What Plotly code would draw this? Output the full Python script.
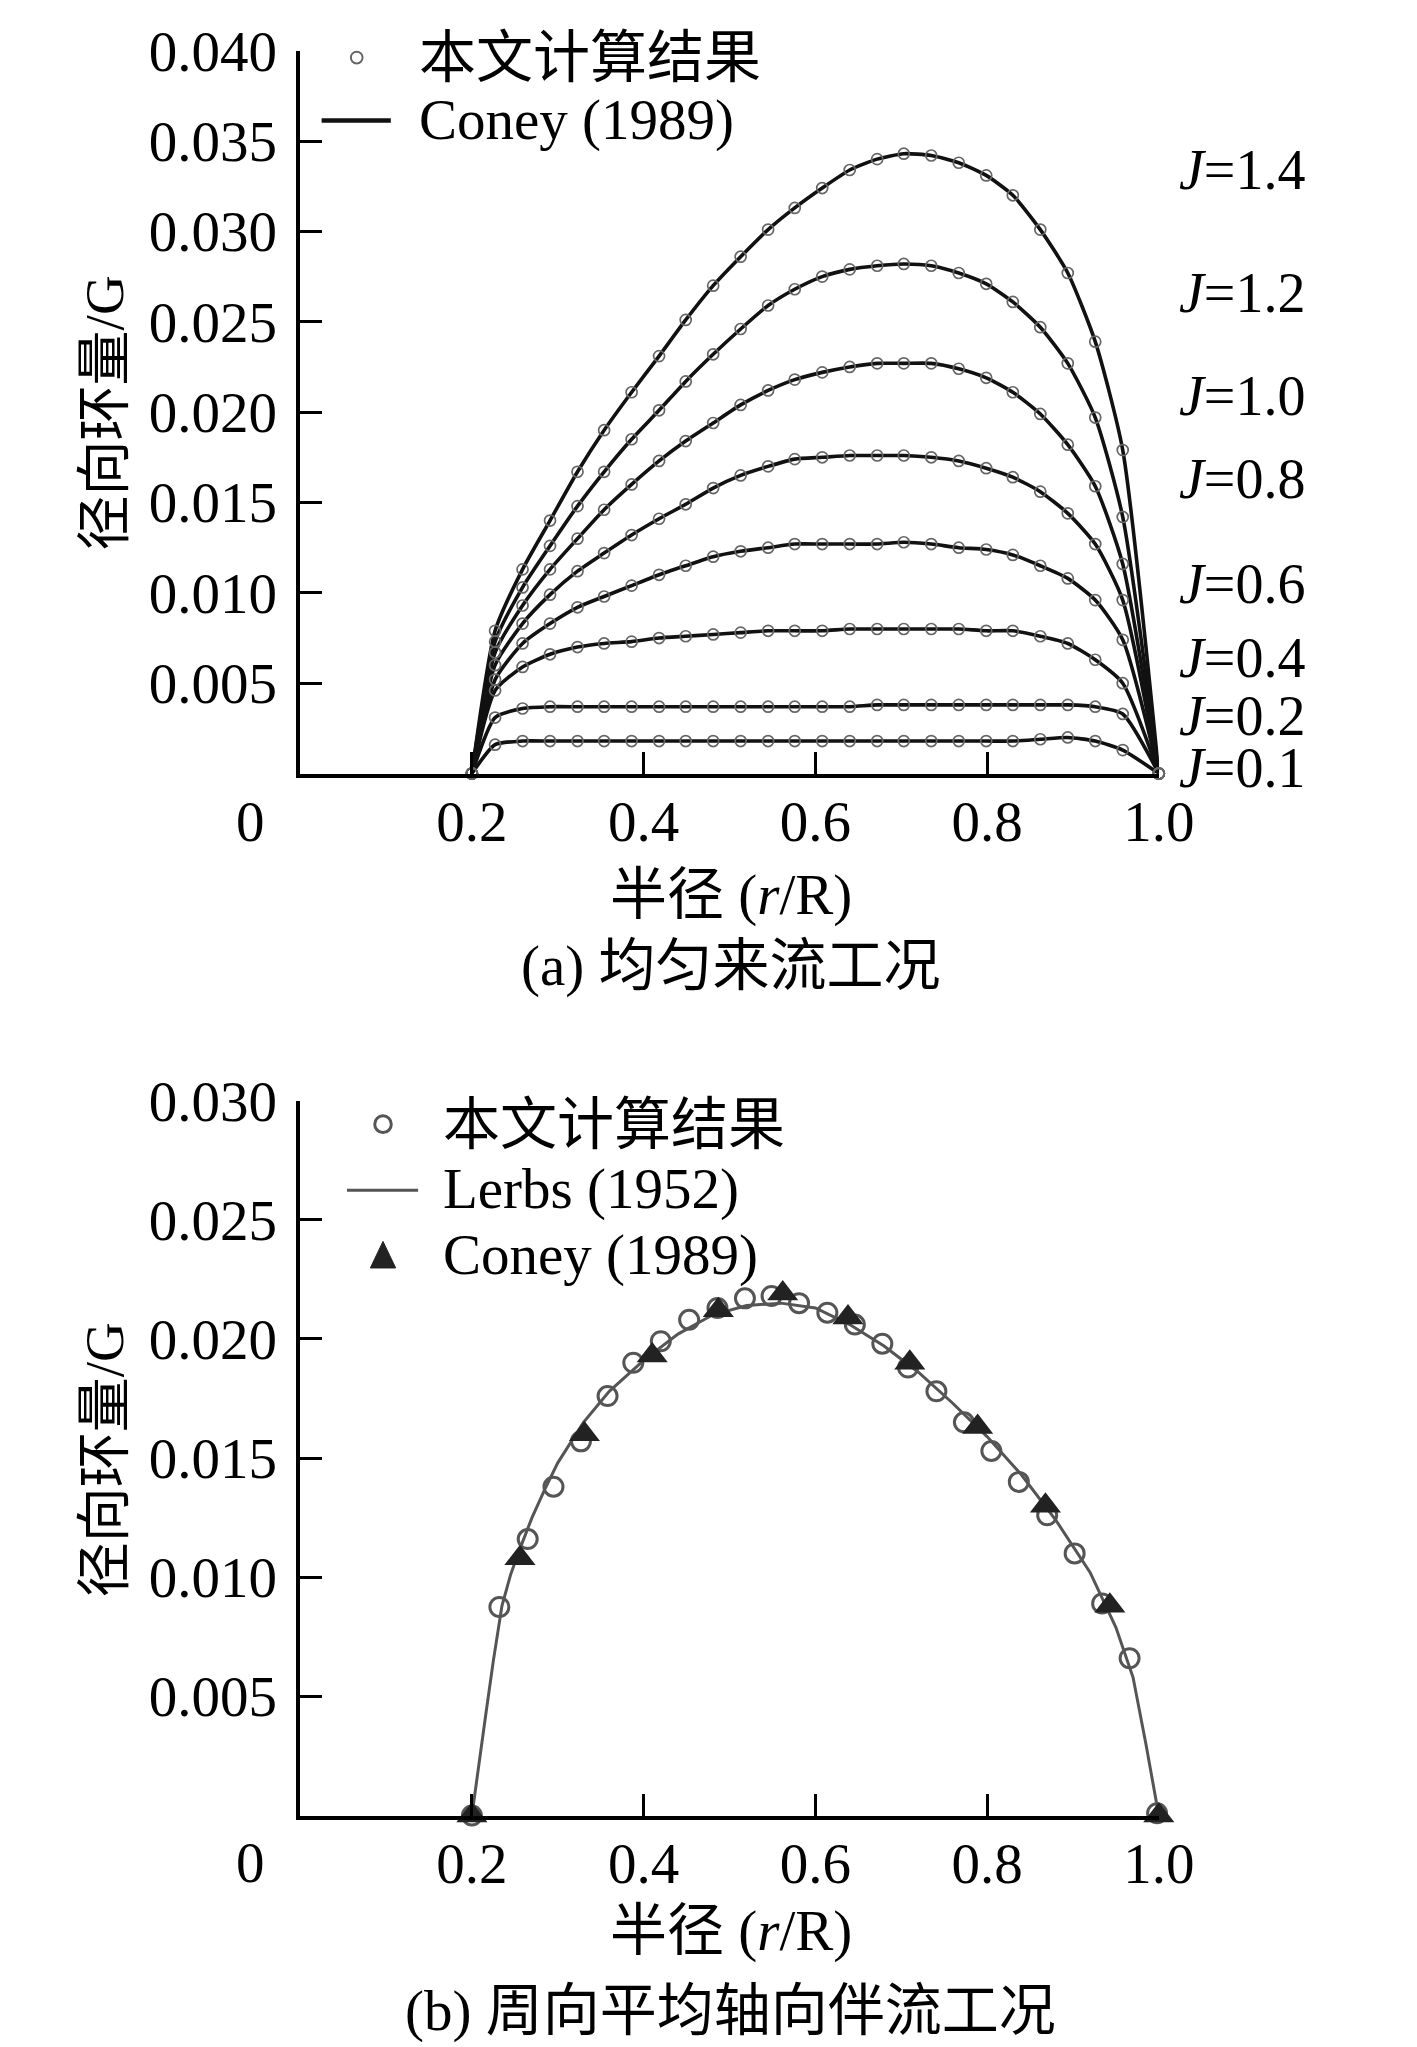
import plotly.graph_objects as go

W, H = 1417, 2047
FONT = "Liberation Serif, Noto Sans CJK SC"
FS = 57

# ---------------- (a) uniform inflow ----------------
r_a = [0.200, 0.227, 0.259, 0.291, 0.323, 0.354, 0.386, 0.418, 0.449, 0.481,
       0.513, 0.545, 0.576, 0.608, 0.640, 0.672, 0.703, 0.735, 0.767, 0.799,
       0.830, 0.862, 0.894, 0.926, 0.958, 1.000]
J_names = ["1.4", "1.2", "1.0", "0.8", "0.6", "0.4", "0.2", "0.1"]
G_J14 = [0, 0.0079, 0.0113, 0.0140, 0.0167, 0.0190, 0.0211, 0.0231, 0.0251, 0.0270,
         0.0286, 0.0301, 0.0313, 0.0324, 0.0334, 0.0340, 0.0343, 0.0342, 0.0338, 0.0331,
         0.0320, 0.0301, 0.0277, 0.0239, 0.0179, 0]
G_J12 = [0, 0.0073, 0.0103, 0.0126, 0.0148, 0.0167, 0.0185, 0.0201, 0.0217, 0.0232,
         0.0246, 0.0259, 0.0268, 0.0275, 0.0279, 0.0281, 0.0282, 0.0281, 0.0277, 0.0271,
         0.0261, 0.0247, 0.0227, 0.0197, 0.0142, 0]
G_J10 = [0, 0.0067, 0.0093, 0.0113, 0.0130, 0.0146, 0.0160, 0.0173, 0.0184, 0.0194,
         0.0204, 0.0212, 0.0218, 0.0222, 0.0225, 0.0227, 0.0227, 0.0227, 0.0224, 0.0219,
         0.0211, 0.0199, 0.0182, 0.0159, 0.0116, 0]
G_J08 = [0, 0.0060, 0.0083, 0.0099, 0.0112, 0.0122, 0.0132, 0.0141, 0.0149, 0.0158,
         0.0165, 0.0170, 0.0174, 0.0175, 0.0176, 0.0176, 0.0176, 0.0175, 0.0173, 0.0169,
         0.0164, 0.0156, 0.0144, 0.0127, 0.0096, 0]
G_J06 = [0, 0.0052, 0.0072, 0.0083, 0.0092, 0.0098, 0.0104, 0.0110, 0.0115, 0.0120,
         0.0123, 0.0125, 0.0127, 0.0127, 0.0127, 0.0127, 0.0128, 0.0127, 0.0125, 0.0124,
         0.0121, 0.0115, 0.0108, 0.0096, 0.0074, 0]
G_J04 = [0, 0.0046, 0.0059, 0.0066, 0.0070, 0.0072, 0.0073, 0.0075, 0.0076, 0.0077,
         0.0078, 0.0079, 0.0079, 0.0079, 0.0080, 0.0080, 0.0080, 0.0080, 0.0080, 0.0079,
         0.0079, 0.0076, 0.0072, 0.0063, 0.0050, 0]
G_J02 = [0, 0.0031, 0.0036, 0.0037, 0.0037, 0.0037, 0.0037, 0.0037, 0.0037, 0.0037,
         0.0037, 0.0037, 0.0037, 0.0037, 0.0037, 0.0038, 0.0038, 0.0038, 0.0038, 0.0038,
         0.0038, 0.0038, 0.0038, 0.0037, 0.0033, 0]
G_J01 = [0, 0.0016, 0.0018, 0.0018, 0.0018, 0.0018, 0.0018, 0.0018, 0.0018, 0.0018,
         0.0018, 0.0018, 0.0018, 0.0018, 0.0018, 0.0018, 0.0018, 0.0018, 0.0018, 0.0018,
         0.0018, 0.0019, 0.0020, 0.0018, 0.0013, 0]
G_a = [G_J14, G_J12, G_J10, G_J08, G_J06, G_J04, G_J02, G_J01]

# ---------------- (b) circumferentially averaged wake ----------------
r_b_calc = [0.200, 0.232, 0.265, 0.295, 0.327, 0.358, 0.388, 0.420, 0.453, 0.486,
            0.518, 0.549, 0.581, 0.614, 0.646, 0.678, 0.708, 0.741, 0.773, 0.805,
            0.837, 0.870, 0.902, 0.934, 0.966, 0.998]
G_b_calc = [0, 0.00875, 0.0116, 0.0138, 0.0157, 0.0176, 0.0190, 0.0199, 0.0208, 0.0213,
            0.0217, 0.0218, 0.0215, 0.0211, 0.0206, 0.0198, 0.0188, 0.0178, 0.0165, 0.0153,
            0.0140, 0.0126, 0.0110, 0.0089, 0.0066, 0.0001]
r_b_lerbs = [0.200, 0.208, 0.216, 0.225, 0.235, 0.245, 0.256, 0.270, 0.285, 0.300,
             0.330, 0.360, 0.400, 0.440, 0.480, 0.520, 0.560, 0.600, 0.640, 0.680,
             0.720, 0.760, 0.800, 0.840, 0.880, 0.920, 0.950, 0.970, 0.985, 1.000]
G_b_lerbs = [0, 0.0022, 0.0042, 0.0065, 0.0088, 0.0101, 0.0112, 0.0125, 0.0137, 0.0148,
             0.0165, 0.0178, 0.0191, 0.0202, 0.0210, 0.0214, 0.0215, 0.0213, 0.0206, 0.0197,
             0.0186, 0.0173, 0.0159, 0.0143, 0.0124, 0.0102, 0.0079, 0.0058, 0.0030, 0]
r_b_coney = [0.200, 0.256, 0.331, 0.410, 0.487, 0.562, 0.638, 0.710, 0.789, 0.868, 0.943, 1.000]
G_b_coney = [0, 0.0108, 0.0160, 0.0193, 0.0212, 0.0219, 0.0209, 0.0190, 0.0163, 0.0130, 0.0088, 0]

x_ticks = [0.2, 0.4, 0.6, 0.8, 1.0]
x_ticktext = ["0.2", "0.4", "0.6", "0.8", "1.0"]
ya_ticks = [0.005, 0.010, 0.015, 0.020, 0.025, 0.030, 0.035, 0.040]
yb_ticks = [0.005, 0.010, 0.015, 0.020, 0.025, 0.030]


def px(x):
    return x / W


def py(y):
    return 1 - y / H


fig = go.Figure()

# (a) Coney lines and computed markers
for g in G_a:
    fig.add_trace(go.Scatter(x=r_a, y=g, mode="lines", xaxis="x", yaxis="y",
                             line=dict(color="#111111", width=3.6, shape="spline", smoothing=0.6),
                             showlegend=False, cliponaxis=False, hoverinfo="skip"))
for g in G_a:
    fig.add_trace(go.Scatter(x=r_a, y=g, mode="markers", xaxis="x", yaxis="y",
                             marker=dict(symbol="circle-open", size=11, color="#666666",
                                         line=dict(width=1.7, color="#666666")),
                             showlegend=False, cliponaxis=False, hoverinfo="skip"))

# (b)
fig.add_trace(go.Scatter(x=r_b_lerbs, y=G_b_lerbs, mode="lines", xaxis="x2", yaxis="y2",
                         line=dict(color="#555555", width=3),
                         showlegend=False, cliponaxis=False))
fig.add_trace(go.Scatter(x=r_b_calc, y=G_b_calc, mode="markers", xaxis="x2", yaxis="y2",
                         marker=dict(symbol="circle-open", size=19, color="#555555",
                                     line=dict(width=3, color="#555555")),
                         showlegend=False, cliponaxis=False))
fig.add_trace(go.Scatter(x=r_b_coney, y=G_b_coney, mode="markers", xaxis="x2", yaxis="y2",
                         marker=dict(symbol="triangle-up", size=27, color="#222222"),
                         showlegend=False, cliponaxis=False))

xdom = [px(308), px(1189)]
axis_common = dict(showline=True, linecolor="black", linewidth=3.6, ticks="inside",
                   ticklen=22, tickwidth=3.4, tickcolor="black", showgrid=False,
                   zeroline=False, tickfont=dict(family=FONT, size=FS, color="black"))

fig.update_layout(
    width=W, height=H, margin=dict(l=0, r=0, t=0, b=0),
    paper_bgcolor="white", plot_bgcolor="white",
    xaxis=dict(domain=xdom, range=[0, 1.0], tickvals=x_ticks, ticktext=x_ticktext,
               anchor="y", ticklabelstandoff=-5, **axis_common),
    yaxis=dict(domain=[py(754), py(20)], range=[0, 0.040], tickvals=ya_ticks,
               tickformat=".3f", anchor="x", ticklabelstandoff=8, **axis_common),
    xaxis2=dict(domain=xdom, range=[0, 1.0], tickvals=x_ticks, ticktext=x_ticktext,
                anchor="y2", ticklabelstandoff=-5, **axis_common),
    yaxis2=dict(domain=[py(1812), py(1086)], range=[0, 0.030], tickvals=yb_ticks,
                tickformat=".3f", anchor="x2", ticklabelstandoff=8, **axis_common),
)

annotations = []


def text(x, y, s, xanchor="center", angle=0, size=FS):
    annotations.append(dict(x=px(x), y=py(y), xref="paper", yref="paper", text=s,
                            showarrow=False, xanchor=xanchor, yanchor="middle",
                            textangle=angle, font=dict(family=FONT, size=size, color="black")))


# corner zeros
text(257, 803, "0")
text(257, 1860, "0")
# axis titles
text(107, 388, "径向环量/G", angle=-90, size=55)
text(107, 1451, "径向环量/G", angle=-90, size=55)
text(750, 877, "半径 (<i>r</i>/R)")
text(750, 1929, "半径 (<i>r</i>/R)")
# captions
text(750, 949, "(a) 均匀来流工况")
text(750, 2010, "(b) 周向平均轴向伴流工况")
# J labels
J_label_y = [141, 266, 371, 455, 561, 637, 696, 748]
for name, yy in zip(J_names, J_label_y):
    text(1208, yy, "<i>J</i>=" + name, xanchor="left", size=56)
# legend (a)
text(428, 27, "本文计算结果", xanchor="left")
text(428, 90, "Coney (1989)", xanchor="left")
# legend (b)
text(452, 1110, "本文计算结果", xanchor="left")
text(452, 1176, "Lerbs (1952)", xanchor="left")
text(452, 1243, "Coney (1989)", xanchor="left")

shapes = []


def circle(cx, cy, r, color, width):
    shapes.append(dict(type="circle", xref="paper", yref="paper",
                       x0=px(cx - r), x1=px(cx + r), y0=py(cy + r), y1=py(cy - r),
                       line=dict(color=color, width=width)))


def hline(x0, x1, y, color, width):
    shapes.append(dict(type="line", xref="paper", yref="paper",
                       x0=px(x0), x1=px(x1), y0=py(y), y1=py(y),
                       line=dict(color=color, width=width)))


circle(366, 27, 6, "#666666", 2)
hline(330, 401, 91, "#111111", 4.5)
circle(393, 1110, 8.5, "#555555", 3)
hline(356, 429, 1177, "#555555", 3)
tri = "M {} {} L {} {} L {} {} Z".format(px(393), py(1229), px(380), py(1256), px(406), py(1256))
shapes.append(dict(type="path", xref="paper", yref="paper", path=tri,
                   fillcolor="#222222", line=dict(color="#222222", width=1)))

fig.update_layout(annotations=annotations, shapes=shapes)

fig.write_html("out.html", config={"displayModeBar": False},
               post_script="document.body.style.margin='0';")
